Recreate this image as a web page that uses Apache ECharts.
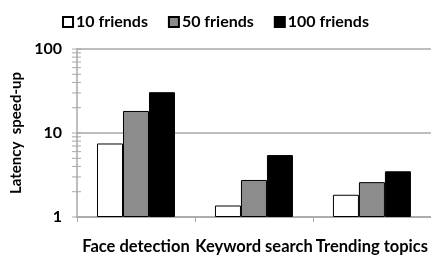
<!DOCTYPE html>
<html>
<head>
<meta charset="utf-8">
<script src="https://cdn.jsdelivr.net/npm/echarts@6/dist/echarts.min.js"></script>
<style>
  html, body { margin: 0; padding: 0; background: #fff; }
  #chart { width: 431px; height: 255px; }
</style>
</head>
<body>
<div id="chart"></div>
<script>
const categories = ['Face detection', 'Keyword search', 'Trending topics'];
const friends10 = [7.5, 1.37, 1.84];
const friends50 = [18.3, 2.76, 2.6];
const friends100 = [30.6, 5.46, 3.5];
const labelTicks = [1, 10, 100];
const minorTicks = [1, 2, 3, 4, 5, 6, 7, 8, 9, 10, 20, 30, 40, 50, 60, 70, 80, 90, 100];

const font = 'Lato';
const gridGray = '#a8a8a8';
const chart = echarts.init(document.getElementById('chart'));

function barSerie(name, color, data) {
    return {
        name: name,
        type: 'bar',
        data: data,
        barWidth: 26,
        barGap: '0%',
        itemStyle: { color: color, borderColor: '#000', borderWidth: 1 }
    };
}

// log tick marks crossing the y axis (echarts only draws them on one side)
const tickSerie = {
    type: 'custom',
    coordinateSystem: 'cartesian2d',
    data: minorTicks.map(v => [0, v]),
    encode: { x: 0, y: 1 },
    silent: true,
    clip: false,
    z: 10,
    renderItem: function (params, api) {
        const y = api.coord([0, api.value(1)])[1];
        const x = params.coordSys.x;
        return {
            type: 'line',
            shape: { x1: x - 5, y1: y, x2: x + 4, y2: y },
            style: { stroke: gridGray, lineWidth: 1 }
        };
    }
};

chart.setOption({
    animation: false,
    textStyle: { fontFamily: font },
    legend: {
        top: 9,
        left: 'center',
        itemWidth: 10,
        itemHeight: 10,
        itemGap: 20,
        icon: 'rect',
        textStyle: { fontSize: 16, fontWeight: 'bold', color: '#000', fontFamily: font, padding: [0, 0, 0, -2] },
        data: ['10 friends', '50 friends', '100 friends']
    },
    grid: { left: 77, right: 0, top: 49, bottom: 37 },
    xAxis: {
        type: 'category',
        data: categories,
        axisLine: { lineStyle: { color: gridGray, width: 1.5 } },
        axisTick: { show: true, length: 5, lineStyle: { color: gridGray } },
        axisLabel: { fontSize: 16.5, fontWeight: 'bold', color: '#000', margin: 21, interval: 0 }
    },
    yAxis: {
        type: 'log',
        min: 1,
        max: 100,
        logBase: 10,
        name: 'Latency  speed-up',
        nameLocation: 'middle',
        nameGap: 53,
        nameTextStyle: { fontSize: 15, fontWeight: 'bold', color: '#000' },
        axisLine: { show: true, lineStyle: { color: gridGray, width: 1.5 } },
        axisTick: { show: false },
        axisLabel: { customValues: labelTicks, fontSize: 16, fontWeight: 'bold', color: '#000', margin: 15 },
        splitLine: { show: true, lineStyle: { color: gridGray, width: 1.5 } }
    },
    series: [
        barSerie('10 friends', '#fff', friends10),
        barSerie('50 friends', '#8c8c8c', friends50),
        barSerie('100 friends', '#000', friends100),
        tickSerie
    ]
});
</script>
</body>
</html>
